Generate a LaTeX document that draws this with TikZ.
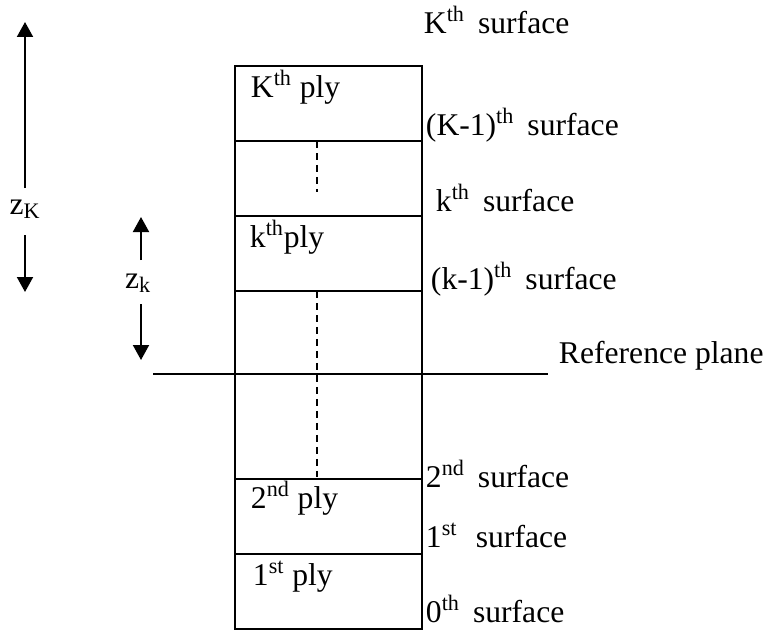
\documentclass[tikz,border=0pt]{standalone}
\usepackage{fontspec}
\setmainfont{Liberation Serif}
\usetikzlibrary{arrows.meta}

\begin{document}
\begin{tikzpicture}[x=0.02cm,y=-0.02cm,line width=1.1pt,
  lbl/.style={anchor=base west,inner sep=0pt,font=\fontsize{18}{20}\selectfont},
  zlbl/.style={anchor=base,inner sep=0pt,font=\fontsize{18}{20}\selectfont},
  arr/.style={-{Triangle[width=0.32cm,length=0.3cm]}}]
\useasboundingbox (0,0) rectangle (767,632);

%Plies
\draw (235,66) rectangle (422,629);
\draw (235,141)--(422,141); \draw (235,216)--(422,216); \draw (235,291)--(422,291); \draw (235,479)--(422,479); \draw (235,554)--(422,554);
\draw [dashed,line width=0.8pt,dash pattern=on 0.14cm off 0.1cm] (317,141)--(317,192); \draw [dashed,line width=0.8pt,dash pattern=on 0.14cm off 0.1cm] (317,291)--(317,477);

\node [lbl] (Kply) at (250,97) {K\textsuperscript{th} ply};
\node [lbl] (kply) at (249,247) {k\textsuperscript{th}ply};
\node [lbl] (ply2) at (250,508) {2\textsuperscript{nd} ply};
\node [lbl] (ply1) at (252,585) {1\textsuperscript{st} ply};

%Reference plane
\draw (153,374)--(548,374);
\node [lbl] (refplane) at (558,363) {Reference plane};

%Surfaces
\node [lbl] (Ksurf) at (423,33) {K\textsuperscript{th}\, surface};
\node [lbl] (Km1surf) at (425,135) {(K-1)\textsuperscript{th}\, surface};
\node [lbl] (ksurf) at (435,211) {k\textsuperscript{th}\, surface};
\node [lbl] (km1surf) at (430,289) {(k-1)\textsuperscript{th}\, surface};
\node [lbl] (surf2) at (425,487) {2\textsuperscript{nd}\, surface};
\node [lbl] (surf1) at (425,547) {1\textsuperscript{st}\,\, surface};
\node [lbl] (surf0) at (425,622) {0\textsuperscript{th}\, surface};

%Distances
\node [zlbl] (zK) at (25,214) {z\textsubscript{K}};
\coordinate (zKa) at (25,188); \coordinate (zKtop) at (25,22); \coordinate (zKb) at (25,235); \coordinate (zKbot) at (25,292);
\draw [arr] (zKa)--(zKtop); \draw [arr] (zKb)--(zKbot);

\node [zlbl] (zk) at (138,288) {z\textsubscript{k}};
\coordinate (zka) at (141,260); \coordinate (zktop) at (141,217); \coordinate (zkb) at (141,304); \coordinate (zkbot) at (141,360);
\draw [arr] (zka)--(zktop); \draw [arr] (zkb)--(zkbot);

\end{tikzpicture}
\end{document}
